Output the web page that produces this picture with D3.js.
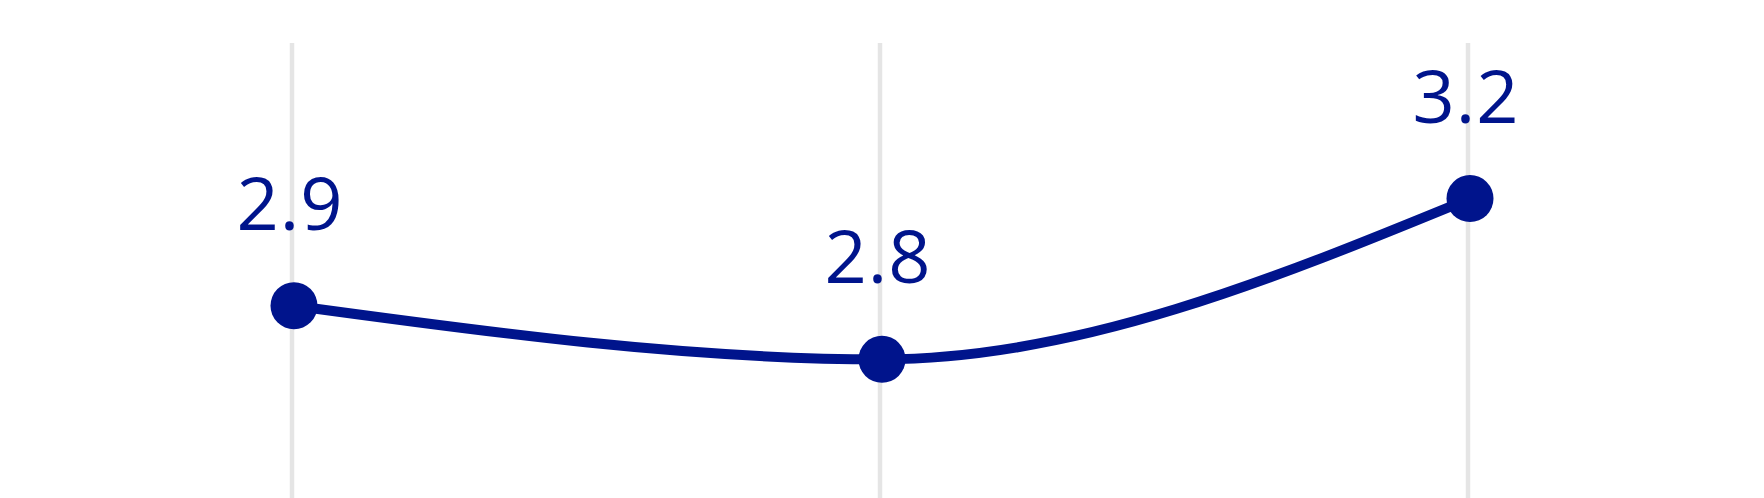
<!DOCTYPE html>
<html>
<head>
<meta charset="utf-8">
<script src="https://cdn.jsdelivr.net/npm/d3@7"></script>
<style>
  html, body { margin: 0; padding: 0; background: #ffffff; }
  svg { display: block; }
</style>
</head>
<body>
<div id="chart"></div>
<script>
// Data
const categories = ["Period 1", "Period 2", "Period 3"];
const values = [2.91, 2.78, 3.17];
const valueLabels = ["2.9", "2.8", "3.2"];

const W = 1764, H = 498;
const color = "#00148c";

const svg = d3.select("#chart").append("svg")
  .attr("width", W).attr("height", H);

const x = d3.scalePoint().domain(categories).range([292, 1468]);
const y = d3.scaleLinear().domain([2.7, 3.2]).range([392.3, 186.2]);

// vertical grid lines
svg.append("g").selectAll("line")
  .data(categories).join("line")
  .attr("x1", d => x(d)).attr("x2", d => x(d))
  .attr("y1", 43).attr("y2", H)
  .attr("stroke", "#e5e5e5").attr("stroke-width", 4.5);

const pts = categories.map((c, i) => ({ c, v: values[i], label: valueLabels[i] }));

const line = d3.line()
  .x(d => x(d.c) + 2)
  .y(d => y(d.v))
  .curve(d3.curveMonotoneX);

svg.append("path")
  .datum(pts)
  .attr("d", line)
  .attr("fill", "none")
  .attr("stroke", color)
  .attr("stroke-width", 10);

svg.append("g").selectAll("circle")
  .data(pts).join("circle")
  .attr("cx", d => x(d.c) + 2)
  .attr("cy", d => y(d.v))
  .attr("r", 23.5)
  .attr("fill", color);

svg.append("g").selectAll("text")
  .data(pts).join("text")
  .attr("x", d => x(d.c) - 2)
  .attr("y", d => y(d.v) - 76)
  .attr("text-anchor", "middle")
  .attr("font-family", "'Open Sans', 'Noto Sans', sans-serif")
  .attr("font-weight", 500)
  .attr("font-size", 74)
  .attr("letter-spacing", 1)
  .attr("fill", color)
  .text(d => d.label);
</script>
</body>
</html>
